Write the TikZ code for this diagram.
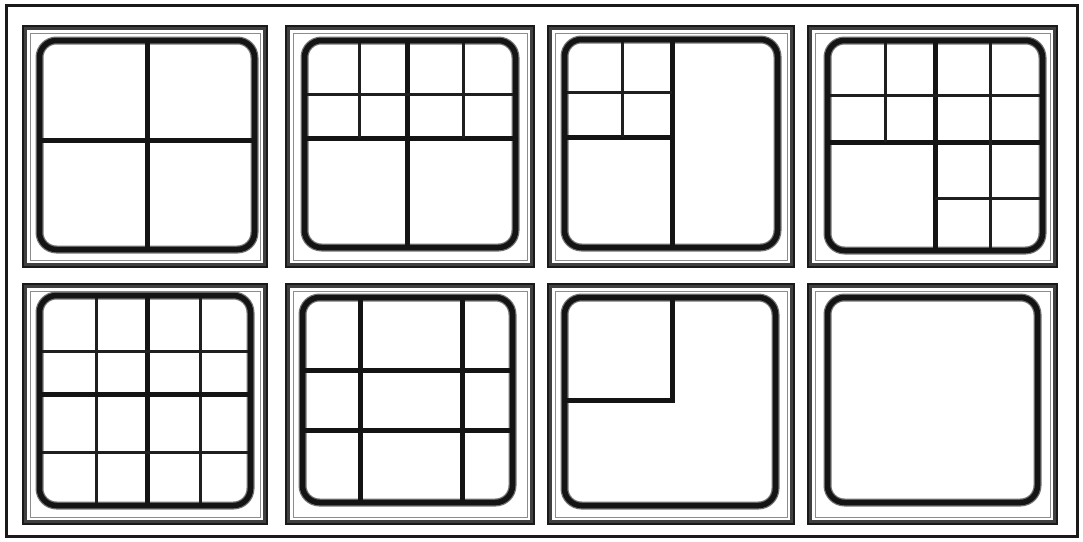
\documentclass[tikz,border=0pt]{standalone}
\begin{document}
\begin{tikzpicture}[x=1pt,y=-1pt,
  outerframe/.style={draw=black!90,line width=3pt},
  frameout/.style={draw=black!75,line width=5pt},
  frameedge/.style={draw=black!90,line width=2pt},
  framein/.style={draw=black!45,line width=1pt},
  rrhalo/.style={draw=black!55,line width=8pt,rounded corners=17pt},
  rrbox/.style={draw=black!92,line width=5.5pt,rounded corners=17pt},
  thickln/.style={draw=black!92,line width=5pt},
  thinln/.style={draw=black!88,line width=3pt}]
\useasboundingbox (0,0) rectangle (1083,541);
\fill[white] (0,0) rectangle (1083,541);
\draw[outerframe] (6,5) rectangle (1077,536);
% panel frames
\foreach \l/\t/\r/\b in {22/25/268/268, 285/25/535/268, 547/25/795/268, 807/25/1058/268,
                         22/283/268/525, 285/283/535/525, 547/283/795/525, 807/283/1058/525}{
  \draw[frameout] (\l+2.5,\t+2.5) rectangle (\r-2.5,\b-2.5);
  \draw[frameedge] (\l+1,\t+1) rectangle (\r-1,\b-1);
  \draw[framein] (\l+8,\t+8) rectangle (\r-8,\b-8);
}
% rounded box halos
\foreach \l/\t/\r/\b in {39.5/40.5/254.5/249.5, 304.5/40.5/515.5/247.5, 564.5/39.5/777.5/247.5, 827.5/40.5/1042.5/250.5,
                         39.5/295.5/250.5/505.5, 302.5/297.5/512.5/502.5, 564.5/297.5/775.5/505.5, 827.5/297.5/1037.5/502.5}{
  \draw[rrhalo] (\l,\t) rectangle (\r,\b);
}
% panel 1
\draw[thickln] (147,40.5) -- (147,249.5);
\draw[thickln] (39.5,140) -- (254.5,140);
% panel 2
\draw[thickln] (407,40.5) -- (407,247.5);
\draw[thickln] (304.5,138) -- (515.5,138);
\draw[thinln] (304.5,94) -- (515.5,94);
\draw[thinln] (359,40.5) -- (359,138);
\draw[thinln] (463,40.5) -- (463,138);
% panel 3
\draw[thickln] (672,39.5) -- (672,247.5);
\draw[thickln] (564.5,137) -- (672,137);
\draw[thinln] (622,39.5) -- (622,137);
\draw[thinln] (564.5,92) -- (672,92);
% panel 4
\draw[thickln] (935,40.5) -- (935,250.5);
\draw[thickln] (827.5,142) -- (1042.5,142);
\draw[thinln] (885,40.5) -- (885,142);
\draw[thinln] (990,40.5) -- (990,250.5);
\draw[thinln] (827.5,95) -- (1042.5,95);
\draw[thinln] (935,198) -- (1042.5,198);
% panel 5
\draw[thinln] (96,295.5) -- (96,505.5);
\draw[thickln] (147,295.5) -- (147,505.5);
\draw[thinln] (200,295.5) -- (200,505.5);
\draw[thinln] (39.5,351) -- (250.5,351);
\draw[thickln] (39.5,394) -- (250.5,394);
\draw[thinln] (39.5,452) -- (250.5,452);
% panel 6
\draw[thickln] (360,297.5) -- (360,502.5);
\draw[thickln] (462,297.5) -- (462,502.5);
\draw[thickln] (302.5,370) -- (512.5,370);
\draw[thickln] (302.5,430) -- (512.5,430);
% panel 7
\draw[thickln] (672,297.5) -- (672,400.5) -- (564.5,400.5);
% rounded boxes on top
\foreach \l/\t/\r/\b in {39.5/40.5/254.5/249.5, 304.5/40.5/515.5/247.5, 564.5/39.5/777.5/247.5, 827.5/40.5/1042.5/250.5,
                         39.5/295.5/250.5/505.5, 302.5/297.5/512.5/502.5, 564.5/297.5/775.5/505.5, 827.5/297.5/1037.5/502.5}{
  \draw[rrbox] (\l,\t) rectangle (\r,\b);
}
\end{tikzpicture}
\end{document}
